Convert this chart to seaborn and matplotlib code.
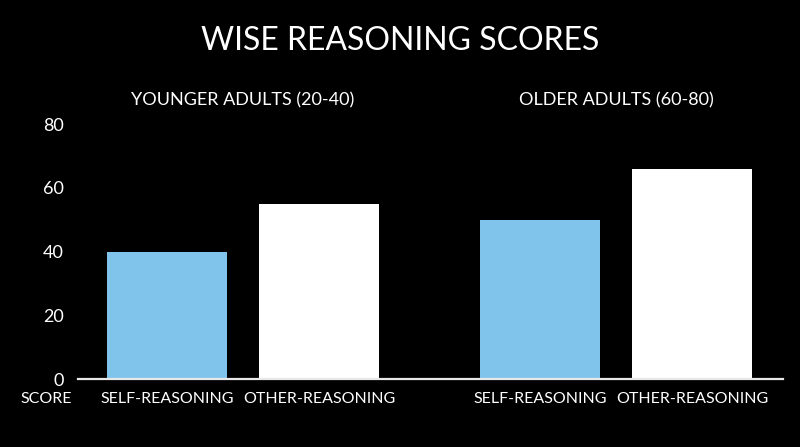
import numpy as np
import pandas as pd
import matplotlib.pyplot as plt
import matplotlib.transforms as mtransforms
import seaborn as sns

groups = ["YOUNGER ADULTS (20-40)", "OLDER ADULTS (60-80)"]
conditions = ["SELF-REASONING", "OTHER-REASONING"]
self_scores = [40, 50]
other_scores = [55, 66]
y_ticks = [0, 20, 40, 60, 80]

BLUE = "#80C4EC"
WHITE = "#FFFFFF"

df = pd.DataFrame({
    "group": groups * 2,
    "condition": [conditions[0]] * 2 + [conditions[1]] * 2,
    "score": self_scores + other_scores,
})

sns.set_style("dark")
plt.rcParams["font.family"] = ["Lato", "DejaVu Sans"]

fig = plt.figure(figsize=(8, 4.47), dpi=100, facecolor="black")
ax = fig.add_axes([78 / 800, 1 - 379 / 447, (783 - 78) / 800, (379 - 124) / 447])
ax.set_facecolor("black")

sns.barplot(data=df, x="group", y="score", hue="condition", order=groups,
            hue_order=conditions, palette=[BLUE, WHITE], saturation=1,
            width=0.815, gap=0.21, errorbar=None, legend=False,
            linewidth=0, edgecolor="none", ax=ax)

ax.set_xlim(-0.442, 1.448)
ax.set_ylim(0, 80)
ax.set_yticks(y_ticks)
ax.tick_params(axis="y", length=0, pad=10, labelcolor="white", labelsize=13)
ax.set_xticks([])
ax.set_xlabel("")
ax.set_ylabel("")
ax.grid(False)
for side in ["top", "right", "left"]:
    ax.spines[side].set_visible(False)
ax.spines["bottom"].set_color("#e8e8e8")
ax.spines["bottom"].set_linewidth(1.6)
ax.spines["bottom"].set_zorder(3)

# condition labels under each bar
below = mtransforms.blended_transform_factory(ax.transData, fig.transFigure)
for cond, cont in zip(conditions, ax.containers):
    for bar in cont:
        cx = bar.get_x() + bar.get_width() / 2
        ax.text(cx, 1 - 399 / 447, cond, transform=below, ha="center", va="center",
                color="white", fontsize=11.5)

# group headers
for i, g in enumerate(groups):
    ax.text(i, 1 - 100 / 447, g, transform=below, ha="center", va="center",
            color="white", fontsize=13)

fig.text(46 / 800, 1 - 399 / 447, "SCORE", ha="center", va="center",
         color="white", fontsize=11.5)
fig.text(0.5, 1 - 41 / 447, "WISE REASONING SCORES", ha="center", va="center",
         color="white", fontsize=23)

fig.savefig("out.png", dpi=100, facecolor="black")
